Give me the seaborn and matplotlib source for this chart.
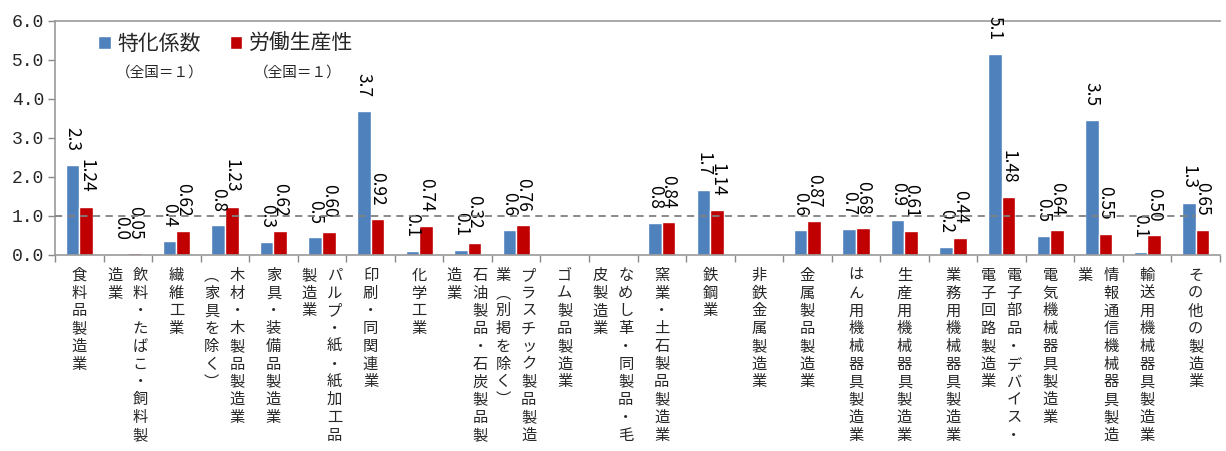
import numpy as np
import pandas as pd
import matplotlib
matplotlib.use("Agg")
import matplotlib.pyplot as plt
import seaborn as sns

# --- data ---------------------------------------------------------------------
categories = [
    "食料品製造業", "飲料・たばこ・飼料製造業", "繊維工業", "木材・木製品製造業（家具を除く）",
    "家具・装備品製造業", "パルプ・紙・紙加工品製造業", "印刷・同関連業", "化学工業",
    "石油製品・石炭製品製造業", "プラスチック製品製造業（別掲を除く）", "ゴム製品製造業",
    "なめし革・同製品・毛皮製造業", "窯業・土石製品製造業", "鉄鋼業", "非鉄金属製造業",
    "金属製品製造業", "はん用機械器具製造業", "生産用機械器具製造業", "業務用機械器具製造業",
    "電子部品・デバイス・電子回路製造業", "電気機械器具製造業", "情報通信機械器具製造業",
    "輸送用機械器具製造業", "その他の製造業",
]
# tick labels as vertical columns, first column on the right
tick_labels = [
    ["食料品製造業"], ["飲料・たばこ・飼料製", "造業"], ["繊維工業"],
    ["木材・木製品製造業", "（家具を除く）"], ["家具・装備品製造業"],
    ["パルプ・紙・紙加工品", "製造業"], ["印刷・同関連業"], ["化学工業"],
    ["石油製品・石炭製品製", "造業"], ["プラスチック製品製造", "業（別掲を除く）"],
    ["ゴム製品製造業"], ["なめし革・同製品・毛", "皮製造業"], ["窯業・土石製品製造業"],
    ["鉄鋼業"], ["非鉄金属製造業"], ["金属製品製造業"], ["はん用機械器具製造業"],
    ["生産用機械器具製造業"], ["業務用機械器具製造業"],
    ["電子部品・デバイス・", "電子回路製造業"], ["電気機械器具製造業"],
    ["情報通信機械器具製造", "業"], ["輸送用機械器具製造業"], ["その他の製造業"],
]
specialization = [2.30, 0.02, 0.37, 0.76, 0.33, 0.45, 3.68, 0.11, 0.14, 0.64, np.nan,
                  np.nan, 0.82, 1.66, np.nan, 0.64, 0.67, 0.89, 0.20, 5.14, 0.49, 3.46,
                  0.08, 1.34]
productivity = [1.24, 0.05, 0.62, 1.23, 0.62, 0.60, 0.92, 0.74, 0.32, 0.76, np.nan,
                np.nan, 0.84, 1.14, np.nan, 0.87, 0.68, 0.61, 0.44, 1.48, 0.64, 0.55,
                0.50, 0.65]
series_names = ["特化係数", "労働生産性"]
series_note = "（全国＝１）"
baseline = 1.0

df = pd.DataFrame({
    "category": categories * 2,
    "series": [series_names[0]] * len(categories) + [series_names[1]] * len(categories),
    "value": specialization + productivity,
})

# --- plot ---------------------------------------------------------------------
sns.set_theme(style="white")
plt.rcParams["font.family"] = ["Noto Sans CJK JP", "DejaVu Sans"]

fig = plt.figure(figsize=(12.26, 4.51), dpi=100)
ax = fig.add_axes([0.0449, 0.4346, 0.9502, 0.5194])

sns.barplot(data=df, x="category", y="value", hue="series", order=categories,
            hue_order=series_names, palette=["#4F81BD", "#C00000"], width=0.56,
            saturation=1, ax=ax)

# value labels, rotated to read top-to-bottom
for cont, fmt in zip(ax.containers, ["{:.1f}", "{:.2f}"]):
    for bar in cont:
        h = bar.get_height()
        if not np.isfinite(h):
            continue
        ax.annotate(fmt.format(h), xy=(bar.get_x() + bar.get_width() / 2, h),
                    xytext=(0, 10), textcoords="offset points", rotation=270,
                    ha="center", va="bottom", fontsize=12.5, color="black")

ax.hlines(baseline, -0.5, len(categories) - 1, colors="#808080", linestyles=(0, (4, 3)),
          linewidth=1.3, zorder=3)

ax.set_xlim(-0.5, len(categories) - 0.5)
ax.set_ylim(0, 6)
yt = np.arange(0, 6.01, 1.0)
ax.set_yticks(yt)
ax.set_yticklabels([f"{v:.1f}" for v in yt], fontsize=13, family="Liberation Mono")
ax.set_xticks(np.arange(len(categories) + 1) - 0.5)
ax.set_xticklabels([])
ax.tick_params(axis="both", direction="out", length=5, color="#888888", width=1,
               bottom=True, left=True, pad=3)
ax.set_xlabel("")
ax.set_ylabel("")
for side in ["left", "bottom", "top"]:
    ax.spines[side].set_color("#999999")
    ax.spines[side].set_linewidth(1.2)
ax.spines["right"].set_visible(False)

# vertical category labels
step = 12.8
for i, cols in enumerate(tick_labels):
    offsets = [0] if len(cols) == 1 else [9, -9.5]
    for col, dx in zip(cols, offsets):
        col = col.replace("（", "︵").replace("）", "︶")
        for j, ch in enumerate(col):
            ax.annotate(ch, xy=(i, 0), xycoords=("data", "axes fraction"),
                        xytext=(dx, -8.5 - j * step), textcoords="offset points",
                        ha="center", va="top", fontsize=11, annotation_clip=False)

# legend
ax.legend(loc="upper left", bbox_to_anchor=(0.030, 0.985), ncol=2, frameon=False,
          fontsize=15, handlelength=0.6, handleheight=0.6, handletextpad=0.3,
          columnspacing=1.4, borderaxespad=0)
ax.text(0.0897, 0.779, series_note, transform=ax.transAxes, ha="center", va="center",
        fontsize=10.5)
ax.text(0.2085, 0.779, series_note, transform=ax.transAxes, ha="center", va="center",
        fontsize=10.5)

fig.savefig("out.png", dpi=100)
